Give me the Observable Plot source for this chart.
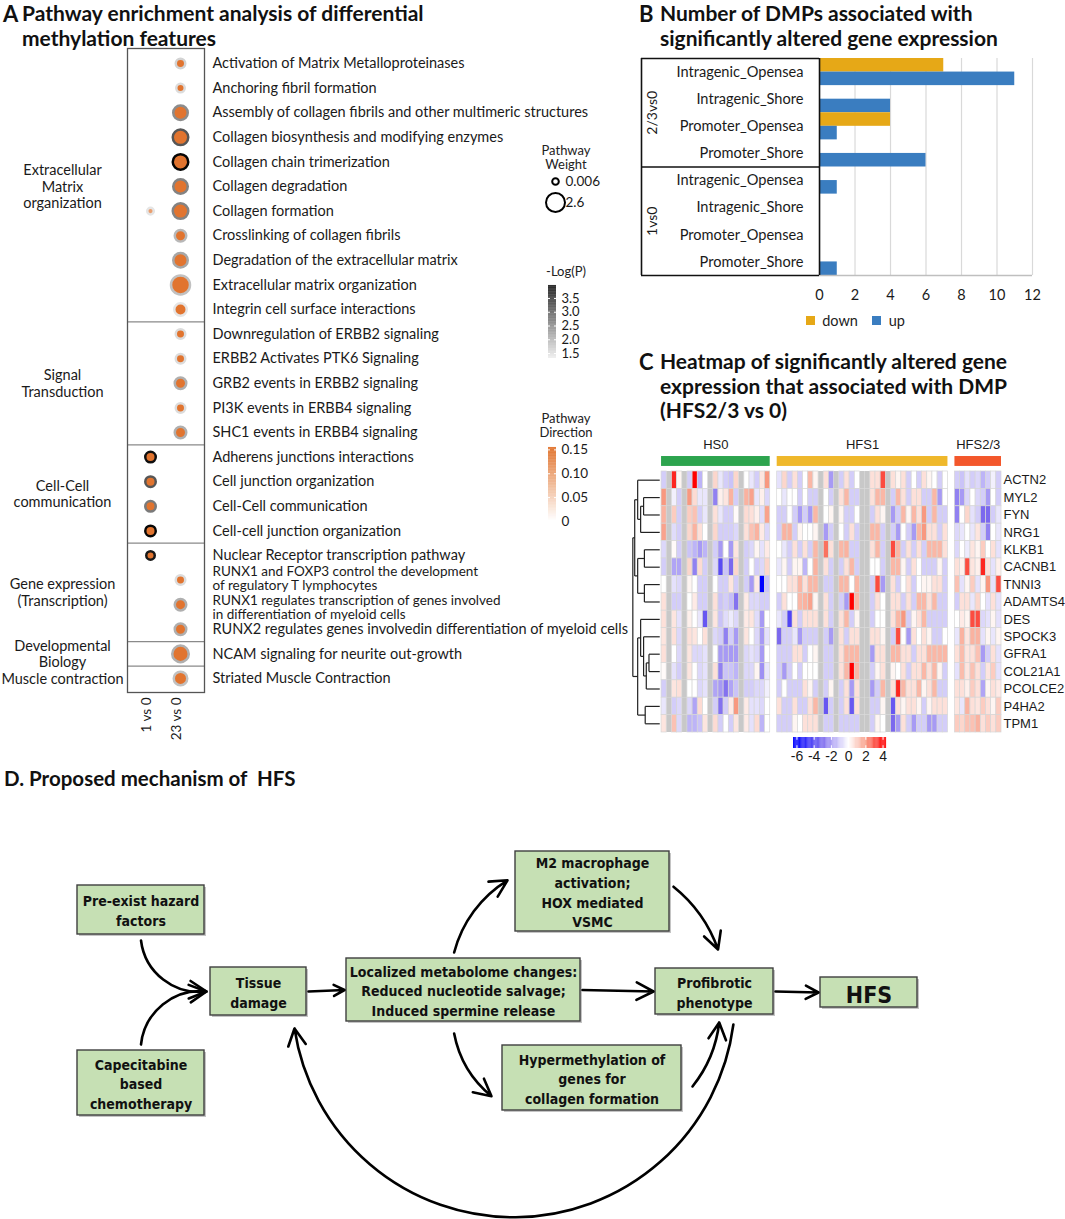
<!DOCTYPE html>
<html><head><meta charset="utf-8">
<script src="https://cdn.jsdelivr.net/npm/d3@7"></script>
<script src="https://cdn.jsdelivr.net/npm/@observablehq/plot@0.6"></script>
<style>
body{margin:0;background:#fff;}
#page{position:relative;width:1065px;height:1219px;overflow:hidden;background:#fff;font-family:Lato,"Open Sans",sans-serif;color:#111;}
.t{position:absolute;font-family:Lato,"Open Sans",sans-serif;font-weight:700;font-size:21px;line-height:24.5px;color:#111;white-space:pre;}
.lg{position:absolute;font-family:Lato,"Open Sans",sans-serif;font-size:13px;line-height:14px;color:#222;text-align:center;white-space:pre;}
</style></head>
<body><div id="page"></div>
<script>
// ================= DATA =================
// ---- Panel A: pathway enrichment ----
const pathways = [
 "Activation of Matrix Metalloproteinases",
 "Anchoring fibril formation",
 "Assembly of collagen fibrils and other multimeric structures",
 "Collagen biosynthesis and modifying enzymes",
 "Collagen chain trimerization",
 "Collagen degradation",
 "Collagen formation",
 "Crosslinking of collagen fibrils",
 "Degradation of the extracellular matrix",
 "Extracellular matrix organization",
 "Integrin cell surface interactions",
 "Downregulation of ERBB2 signaling",
 "ERBB2 Activates PTK6 Signaling",
 "GRB2 events in ERBB2 signaling",
 "PI3K events in ERBB4 signaling",
 "SHC1 events in ERBB4 signaling",
 "Adherens junctions interactions",
 "Cell junction organization",
 "Cell-Cell communication",
 "Cell-cell junction organization",
 "Nuclear Receptor transcription pathway",
 "RUNX1 and FOXP3 control the development\nof regulatory T lymphocytes",
 "RUNX1 regulates transcription of genes involved\nin differentiation of myeloid cells",
 "RUNX2 regulates genes involvedin differentiation of myeloid cells",
 "NCAM signaling for neurite out-growth",
 "Striated Muscle Contraction"
];
const pathwayGroups = ["Extracellular\nMatrix\norganization","Signal\nTransduction","Cell-Cell\ncommunication","Gene expression\n(Transcription)","Developmental\nBiology","Muscle contraction"];
const pathwayGroupSizes = [11,5,4,4,1,1];
const comparisons = ["1 vs 0","23 vs 0"];
const dotPathway = [0,1,2,3,4,5,6,6,7,8,9,10,11,12,13,14,15,16,17,18,19,20,21,22,23,24,25];
const dotComparison = ["23 vs 0","23 vs 0","23 vs 0","23 vs 0","23 vs 0","23 vs 0","23 vs 0","1 vs 0",
  "23 vs 0","23 vs 0","23 vs 0","23 vs 0","23 vs 0","23 vs 0","23 vs 0","23 vs 0","23 vs 0",
  "1 vs 0","1 vs 0","1 vs 0","1 vs 0","1 vs 0",
  "23 vs 0","23 vs 0","23 vs 0","23 vs 0","23 vs 0"];
const dotWeight = [0.61,0.40,1.66,1.87,1.87,1.66,1.87,0.006,1.03,1.66,2.6,1.24,0.61,0.61,1.03,0.61,1.03,0.82,0.82,0.82,0.82,0.40,0.61,1.03,1.03,2.08,1.45];
const dotLogP = [1.6,1.5,2.4,3.0,3.9,2.5,2.5,1.4,1.9,2.1,1.8,1.4,1.5,1.5,2.0,1.5,2.0,3.8,3.0,2.6,3.9,3.7,1.5,2.0,2.0,2.0,1.8];
const dotDirection = [0.13,0.13,0.13,0.13,0.13,0.13,0.13,0.09,0.13,0.13,0.13,0.13,0.13,0.13,0.13,0.13,0.13,0.13,0.13,0.13,0.13,0.13,0.13,0.13,0.13,0.13,0.13];
const weightLegend = [0.006, 2.6];
const logpTicks = [1.5,2.0,2.5,3.0,3.5];
const logpDomain = [1.32, 3.97];
const directionTicks = [0,0.05,0.10,0.15];
const directionDomain = [0, 0.155];

// ---- Panel B: DMP counts ----
const dmpComparisons = ["2/3vs0","1vs0"];
const dmpRegions = ["Intragenic_Opensea","Intragenic_Shore","Promoter_Opensea","Promoter_Shore"];
const dmpDown = [7,0,4,0, 0,0,0,0];
const dmpUp   = [11,4,1,6, 1,0,0,1];
const dmpTicks = [0,2,4,6,8,10,12];
const dmpSeries = ["down","up"];

// ---- Panel C: heatmap ----
const genes = ["ACTN2","MYL2","FYN","NRG1","KLKB1","CACNB1","TNNI3","ADAMTS4","DES","SPOCK3","GFRA1","COL21A1","PCOLCE2","P4HA2","TPM1"];
const sampleGroups = ["HS0","HFS1","HFS2/3"];
const sampleGroupSizes = [21,33,9];
const heatTicks = [-6,-4,-2,0,2,4];
// each row: HS0 (21) | HFS1 (33) | HFS2/3 (9); null = NA
const ACTN2 = [-1,null,3.5,0.2,null,-1,4,-1.5,0,null,0.8,-0.5,-1,-1.2,0.8,null,0,-0.5,-1,0.5,2,
  -0.6,0.8,-1,0.6,-1,0,1.4,0.2,null,0.6,-2,null,-1,0.6,-1,0,null,null,0.6,0.6,3,null,0.6,0.2,0.6,-1,0,-1,0.6,0.2,0,-1,0,
  -1,-1.2,-0.6,-1,-0.8,-1.5,-1,-0.3,-1];
const MYL2 = [2,null,-0.3,-1,null,2,0.7,-0.5,-0.5,null,-2.5,0.3,0.5,1.5,-1,null,1.5,1.8,-0.5,0.3,-0.8,
  0,-0.5,0,0,-1,0,-1,-1,null,0,-1,null,0.6,1.4,-1,-1,null,null,0.6,1.4,1.4,null,-1,1.4,0.6,-1,0.6,0.6,-1,-1,1.4,-2,0,
  -2.5,-2,-0.8,0,-0.8,-1,-2,0,-1];
const FYN = [1.5,null,1,-1,null,1,1.2,-1,-0.5,null,0.6,-0.5,-1,-1,0.1,null,0.7,0.6,0.3,-0.7,1.8,
  -1,-1,0,-1,-2,-1,-2,1.4,null,0,0.2,null,0.2,-1,-1,0,null,null,-1,0.6,0.2,null,-2,-1,1.4,0.2,1.4,0.6,2,-1,1.4,-1,-1,
  -2.5,0,0.8,-0.6,-1,-3,-3,-1,-0.5];
const NRG1 = [1.8,null,-0.7,-1,null,0.8,1.5,0.6,0,null,0.8,-1,-1,-1,-0.8,null,0.6,1.2,1.5,0.4,-0.8,
  -1,1.5,1.5,-1,0.2,0,0,0.2,null,-2,-1,null,0,-1,0.6,-1,null,null,1.4,1.4,-1,null,-1,-2,0,-1,-2,1.4,2,0.6,0.6,-1,0.6,
  -0.8,-0.5,0,-0.5,0.5,-1,-2.5,0,-0.5];
const KLKB1 = [-0.8,null,0.1,-1,null,-1.2,-1.5,-2,-1.5,null,-1,-2,0,-2,0.5,null,-1,-0.8,0.2,-0.6,0.4,
  0,-0.5,-1,0.6,-1,0.6,-1,1.4,null,2.5,0.6,null,1.4,1.5,-1,-1,null,null,0.6,1.4,-1,null,3,1.4,-1,0.6,-1,0.6,-1,1.4,1.4,1.4,0.6,
  -0.8,0,-0.4,0.5,0.2,1,0,0.6,-0.6];
const CACNB1 = [-1,null,-1.8,-1.8,null,0.8,-2.5,0.7,-1,null,-0.8,-3.8,-1.2,-3,0.8,null,-1,0,-1,-0.8,0.8,
  -0.5,0.2,-1,0.2,0.2,-1.5,0,1.5,null,0.6,-1,null,-1,0.6,1.4,-1,null,null,0,0,-1,null,1.4,1.4,0.2,-1,0.6,0,-1,-1,-1,0.2,-1,
  0.6,0.3,3,0.5,0.3,3.5,0.6,-0.6,0.3];
const TNNI3 = [0,null,-0.6,-0.8,null,0.2,0,-1,-1,null,0,-1,-1,0.5,-1,null,-1,-2,0.4,-6,-1.2,
  0,0,0.6,0.6,1.4,0.6,1.4,1.4,null,-1,-1,null,1.4,1.4,0,1.4,null,null,-1,3,-2,null,0.6,-1,0,0.6,-1,0,0.2,0.2,0.6,0.6,-1,
  1.2,-0.6,0.2,1,-0.6,0.2,2,-0.6,3];
const ADAMTS4 = [0.6,null,-1,-1,null,0,0.4,-1,-1,null,0.6,-1.2,-1,-1.3,-2.8,null,0.4,-0.8,-0.8,-1,-1,
  -1,0.6,0,0,1.4,1.5,1.8,0.2,null,0.6,-1,null,-1,-2,4.5,1.4,null,null,-1,0.6,0,null,0.6,0.6,-1,0.6,-1,1.4,1.4,0.6,1.4,-1,-1,
  -1,0.6,0.6,-0.5,0.8,0,-0.6,0.6,-0.6];
const DES = [0.6,null,0.5,-0.6,null,0.3,0,-0.5,-3.5,null,0.5,-1.2,-0.7,-0.4,-0.8,null,0.4,0.5,-0.7,-2,0,
  -0.5,-1,-4,0.6,-1,0.6,0.6,0.6,null,0.6,-1,null,0.6,1.4,-1,0.2,null,null,-1,0,0,null,0.6,1.4,2,-1,0.2,0.6,1.4,-1,-1,-1,-1,
  0,0.4,0.2,3,3,-0.8,-0.6,0.2,-0.6];
const SPOCK3 = [0.5,null,0.6,-0.8,null,0.6,0.5,0,0.6,null,-0.8,-1,-2.5,-1,-2,null,0.5,0,-0.8,-2,-0.6,
  -3,-1,-1,-0.5,-2,-1,-1,-1,null,-1,-2,null,0.6,-1,0.6,0.6,null,null,0.6,0.6,0.2,null,-1,3,0,-2,0.6,0,0.6,0.2,-1,-1,0,
  -0.5,1.5,0.5,1.5,1.5,-0.6,0.2,-0.5,0.2];
const GFRA1 = [0.6,null,0,-0.8,null,0.5,-0.8,-0.8,-0.6,null,0,-2,-2,-2,-2,null,-0.8,-0.6,-0.8,-2,0,
  -1,-1,-1,0.6,0.6,-1,0,0.2,null,-1,-1,null,0.6,1.4,1.4,1.4,null,null,-2,0.6,0.6,null,1.4,1.4,0.6,0.6,-1,0.6,0.6,1.4,1.4,1.4,1.4,
  0.6,1.3,0.5,0.6,1.2,-2,-1,0.6,-0.6];
const COL21A1 = [0.1,null,-0.6,-1,null,0.5,0,-0.8,-0.6,null,0.6,-2.5,-1.2,-1.2,-1.5,null,-0.8,-0.8,0.2,-2.2,-0.5,
  -1,-2,-1,0,-1,0,0,0,null,-1,-1,null,0.6,1.4,4,1.4,null,null,-1,0.2,0.6,null,0.2,0,0.6,-1,0.6,0.6,1.4,0.6,1.4,0.2,-1,
  -0.6,1.3,0.5,1.2,0.6,-1,0.5,1,-0.6];
const PCOLCE2 = [-1,null,0.5,0.6,null,0,0,-0.8,-0.6,null,-1.8,-2,-2.8,-1.8,-1.2,null,-1,-1,-0.8,-0.8,-0.3,
  -1,0,-1,-1,-1,0.6,0.2,-1,null,-1,0.2,null,-1,0.6,-2,0.6,null,null,-2,-1,1.4,null,0.6,3.5,1.4,0.6,0.6,1.4,0.2,0.6,1.4,-1,-1,
  0.6,0.6,0.3,1,0.6,-1.8,0.2,0.6,0.4];
const P4HA2 = [-0.5,null,-1,-0.8,null,-0.8,-1.8,0.7,0,null,-1,-2.8,-1,0.4,2,null,0.4,-0.6,-0.6,-0.8,0,
  0.6,-1,-1,0.6,-1,-1,0.6,1.4,null,-3.5,-1,null,-1,0.6,-3.5,0.6,null,null,-1,-1,0.2,null,-3.5,0.6,0.2,0.6,0.6,0.2,-1,0.2,0.6,0.6,0.6,
  0.5,-0.5,1.5,0.6,0.5,1,0.6,0.2,1];
const TPM1 = [0.5,null,1.2,-0.8,null,-1.5,-1.5,-1.2,0.5,null,0.7,-1,0,-1,0.5,null,0.4,-0.6,0.7,-1.5,0,
  -1,-1,-1,0.2,0,0.6,0.6,0.6,null,-1,-1,null,-1,-1,-1,-1,null,null,-1,0.2,0,null,-3,-2,0.6,-1,-2,-1,-1,-2,-2,-1,-1,
  1,0.8,1.2,1.2,1.5,0.6,1,0.6,1];
const heatRows = [ACTN2,MYL2,FYN,NRG1,KLKB1,CACNB1,TNNI3,ADAMTS4,DES,SPOCK3,GFRA1,COL21A1,PCOLCE2,P4HA2,TPM1];
// row dendrogram (merge heights, relative)
const dendrogram = {h:1.0, c:[
  {h:0.93, c:[
    {h:0.82, c:["ACTN2", {h:0.71, c:[{h:0.6, c:["MYL2","FYN"]}, "NRG1"]}]},
    {h:0.82, c:[{h:0.57, c:["KLKB1","CACNB1"]}, {h:0.57, c:["TNNI3","ADAMTS4"]}]}
  ]},
  {h:0.82, c:[
    {h:0.71, c:["DES", {h:0.6, c:["SPOCK3", {h:0.5, c:[{h:0.4, c:["GFRA1","COL21A1"]}, "PCOLCE2"]}]}]},
    {h:0.54, c:["P4HA2","TPM1"]}
  ]}
]};

// ---- Panel D: mechanism ----
const mechLabels = ["Pre-exist hazard\nfactors","Capecitabine\nbased\nchemotherapy","Tissue\ndamage",
  "Localized metabolome changes:\nReduced nucleotide salvage;\nInduced spermine release",
  "M2 macrophage\nactivation;\nHOX mediated\nVSMC","Hypermethylation of\ngenes for\ncollagen formation",
  "Profibrotic\nphenotype","HFS"];
const mechLinks = [[0,2],[1,2],[2,3],[3,4],[4,6],[3,5],[5,6],[3,6],[6,7],[6,2]];

// ================= STYLE / LAYOUT =================
const page = document.getElementById("page");
function place(el, left, top){ el.style.position="absolute"; el.style.left=left+"px"; el.style.top=top+"px"; page.appendChild(el); return el; }
function div(cls, text, left, top, extra){ const d=document.createElement("div"); d.className=cls; d.textContent=text; if(extra) Object.assign(d.style, extra); return place(d,left,top); }
const baseStyle = {background:"transparent", overflow:"visible", maxWidth:"none", fontFamily:"Lato, 'Open Sans', sans-serif", fontSize:"13px", color:"#1a1a1a"};

// titles
div("t","A",3,2,{fontSize:"22px"});
div("t","Pathway enrichment analysis of differential\nmethylation features",22,1);
div("t","B",639,2,{fontSize:"22px"});
div("t","Number of DMPs associated with\nsignificantly altered gene expression",660,1);
div("t","C",639,350,{fontSize:"22px"});
div("t","Heatmap of significantly altered gene\nexpression that associated with DMP\n(HFS2/3 vs 0)",660,349);
div("t","D. Proposed mechanism of  HFS",4,766,{fontSize:"20.5px"});

// ================= PANEL A =================
const pColor = d3.scaleLinear().domain(logpDomain).range(["#ececec","#000000"]);
const dColor = d3.scaleLinear().domain([0,0.15]).range(["#ffffff","#dc5f0f"]).clamp(true);
const rScale = {type:"linear", domain:[0.006,2.6], range:[3.3,9.5]};
const dots = dotPathway.map((p,i)=>({row:p, col:comparisons.indexOf(dotComparison[i]), weight:dotWeight[i],
  fill:dColor(dotDirection[i]), ring:pColor(dotLogP[i])}));
let acc=0; const groupInfo=[]; const separators=[];
pathwayGroups.forEach((g,i)=>{ groupInfo.push({label:g, center:acc+(pathwayGroupSizes[i]-1)/2}); if(i>0) separators.push(acc-0.5); acc+=pathwayGroupSizes[i]; });
const rowIdx = pathways.map((d,i)=>i);
const singleIdx = rowIdx.filter(i=>!pathways[i].includes("\n"));
const multiIdx = rowIdx.filter(i=>pathways[i].includes("\n"));
const multiShift = [-2, 2.5]; // spread the two wrapped labels apart, as in the original

place(Plot.plot({
  width:640, height:760, marginLeft:127, marginRight:436, marginTop:48, marginBottom:68,
  style:baseStyle,
  x:{domain:[-0.767,1.8], axis:null},
  y:{domain:[-0.61,25.57], reverse:true, axis:null},
  r:rScale, color:{type:"identity"},
  marks:[
    Plot.ruleY(separators,{stroke:"#8a8a8a", strokeWidth:1.3}),
    Plot.frame({stroke:"#555", strokeWidth:1.3}),
    Plot.dot(dots,{x:"col", y:"row", r:"weight", fill:"fill", stroke:"ring", strokeWidth:2.5}),
    Plot.text(singleIdx,{y:i=>i, frameAnchor:"right", dx:8, textAnchor:"start", text:i=>pathways[i], fontSize:14.5}),
    ...multiIdx.map((idx,k)=>Plot.text([idx],{y:i=>i, frameAnchor:"right", dx:8, dy:multiShift[k]||0, textAnchor:"start", text:i=>pathways[i], fontSize:13.5, lineHeight:1.05})),
    Plot.text(groupInfo,{y:"center", frameAnchor:"left", dx:-65, text:"label", textAnchor:"middle", fontSize:14.5, lineHeight:1.12}),
    Plot.text(comparisons,{x:(d,i)=>i, frameAnchor:"bottom", dy:5, rotate:-90, textAnchor:"end", text:d=>d, fontSize:13.5})
  ]
}),0,0);

// legends A
div("lg","Pathway\nWeight",536,143,{width:"60px"});
place(Plot.plot({
  width:100, height:45, marginLeft:25, marginRight:74, marginTop:11, marginBottom:13, style:baseStyle,
  x:{domain:[0,1], axis:null}, y:{domain:[0,1], axis:null, reverse:true}, r:rScale,
  marks:[
    Plot.dot(weightLegend,{x:()=>0, y:(d,i)=>i, r:d=>d, stroke:"#000", strokeWidth:2, fill:"none"}),
    Plot.text(weightLegend,{x:()=>0, y:(d,i)=>i, dx:10, textAnchor:"start", text:d=>String(d), fontSize:13.5})
  ]
}),530,170);

div("lg","-Log(P)",536,264,{width:"60px"});
const logpSteps = d3.range(0,1,0.01).map(t=>logpDomain[0]+t*(logpDomain[1]-logpDomain[0]));
const logpStep = (logpDomain[1]-logpDomain[0])*0.01;
place(Plot.plot({
  width:80, height:85, marginLeft:18, marginRight:54, marginTop:5, marginBottom:7, style:baseStyle,
  x:{domain:[0,1], axis:null}, y:{domain:logpDomain, axis:null}, color:{type:"identity"},
  marks:[
    Plot.rect(logpSteps,{x1:()=>0, x2:()=>1, y1:d=>d, y2:d=>d+logpStep*1.05, fill:d=>pColor(d)}),
    Plot.ruleY(logpTicks,{x1:()=>0, x2:()=>0.25, stroke:"#fff", strokeWidth:1}),
    Plot.ruleY(logpTicks,{x1:()=>0.75, x2:()=>1, stroke:"#fff", strokeWidth:1}),
    Plot.text(logpTicks,{y:d=>d, frameAnchor:"right", dx:5, textAnchor:"start", text:d=>d.toFixed(1), fontSize:13})
  ]
}),530,280);

div("lg","Pathway\nDirection",536,411,{width:"60px"});
const dirSteps = d3.range(0,1,0.01).map(t=>directionDomain[0]+t*(directionDomain[1]-directionDomain[0]));
const dirStep = (directionDomain[1]-directionDomain[0])*0.01;
place(Plot.plot({
  width:80, height:85, marginLeft:18, marginRight:54, marginTop:7, marginBottom:4, style:baseStyle,
  x:{domain:[0,1], axis:null}, y:{domain:directionDomain, axis:null}, color:{type:"identity"},
  marks:[
    Plot.rect(dirSteps,{x1:()=>0, x2:()=>1, y1:d=>d, y2:d=>d+dirStep*1.05, fill:d=>dColor(d)}),
    Plot.ruleY(directionTicks,{x1:()=>0, x2:()=>0.25, stroke:"#fff", strokeWidth:1}),
    Plot.ruleY(directionTicks,{x1:()=>0.75, x2:()=>1, stroke:"#fff", strokeWidth:1}),
    Plot.text(directionTicks,{y:d=>d, frameAnchor:"right", dx:5, textAnchor:"start", text:d=>d===0?"0":d.toFixed(2), fontSize:13.5})
  ]
}),530,440);

// ================= PANEL B =================
const dmpColors = {down:"#e6a817", up:"#3a7dc0"};
const dmpLabels = []; const dmpBars = [];
dmpComparisons.forEach((c,gi)=>dmpRegions.forEach((r,ri)=>{
  const i = gi*dmpRegions.length+ri; dmpLabels.push(r);
  dmpBars.push({series:"down", value:dmpDown[i], y1:i, y2:i+0.5});
  dmpBars.push({series:"up", value:dmpUp[i], y1:i+0.5, y2:i+1});
}));
const nRows = dmpLabels.length;
const xmin = -10.03;
place(Plot.plot({
  width:425, height:290, marginLeft:1, marginRight:33, marginTop:8, marginBottom:65, style:baseStyle,
  x:{domain:[xmin,12], axis:null}, y:{domain:[0,nRows], reverse:true, axis:null},
  color:{domain:dmpSeries, range:dmpSeries.map(s=>dmpColors[s])},
  marks:[
    Plot.ruleX(dmpTicks.filter(t=>t>0),{y1:()=>0, y2:()=>nRows, stroke:"#d9d9d9", strokeWidth:1.2}),
    Plot.rect(dmpBars,{x1:()=>0, x2:"value", y1:"y1", y2:"y2", fill:"series"}),
    Plot.ruleY([nRows],{x1:()=>0, x2:()=>12, stroke:"#bfbfbf", strokeWidth:1.3}),
    Plot.ruleY([0,nRows/2,nRows],{x1:()=>xmin, x2:()=>0, stroke:"#111", strokeWidth:1.6}),
    Plot.ruleX([xmin,0],{y1:()=>0, y2:()=>nRows, stroke:"#111", strokeWidth:1.6}),
    Plot.text(dmpLabels,{x:()=>0, y:(d,i)=>i+0.5, dx:-16, textAnchor:"end", text:d=>d, fontSize:14.6}),
    Plot.text(dmpComparisons,{x:()=>xmin, y:(d,i)=>i*dmpRegions.length+dmpRegions.length/2, dx:11, rotate:-90, text:d=>d, fontSize:14}),
    Plot.text(dmpTicks,{x:d=>d, frameAnchor:"bottom", dy:24, text:d=>String(d), fontSize:14.5})
  ]
}),640,50);
const legB = Plot.legend({color:{domain:dmpSeries, range:dmpSeries.map(s=>dmpColors[s])}, swatchSize:9,
  style:{fontFamily:"Lato, sans-serif", fontSize:"14.5px", background:"transparent", color:"#222"}});
place(legB,806,304);

// ================= PANEL C =================
const heatColor = {type:"linear", domain:[-6,-3,0,2,4], range:["#0000ff","#7b68ee","#ffffff","#f89880","#ff0000"], clamp:true};
const groupGap = 1.35;
const cells = []; const naCells = []; const annot = [];
let colStart = 0;
sampleGroups.forEach((g,gi)=>{
  const offset = gi*groupGap;
  annot.push({name:g, x1:colStart+offset, x2:colStart+sampleGroupSizes[gi]+offset});
  for(let k=0;k<sampleGroupSizes[gi];k++){
    const c = colStart+k;
    heatRows.forEach((row,ri)=>{
      const v = row[c]; const cell = {x:c+offset, row:ri, v};
      (v==null ? naCells : cells).push(cell);
    });
  }
  colStart += sampleGroupSizes[gi];
});
const annotColors = ["#2da44e","#efb82b","#f3572b"];
// dendrogram segments
const dendSegs = [];
const leafScale = 5.2, leafGap = 0.35;
function layoutNode(n){
  if(typeof n === "string") return {y:genes.indexOf(n)+0.5, h:0};
  const kids = n.c.map(layoutNode);
  const y = d3.mean(kids, k=>k.y);
  const xN = -leafGap - n.h*leafScale;
  dendSegs.push({x1:xN, y1:d3.min(kids,k=>k.y), x2:xN, y2:d3.max(kids,k=>k.y)});
  kids.forEach(k=>dendSegs.push({x1:xN, y1:k.y, x2:-leafGap-k.h*leafScale, y2:k.y}));
  return {y, h:n.h};
}
layoutNode(dendrogram);
const totalX = colStart + (sampleGroups.length-1)*groupGap;
const cFont = "'Liberation Sans', Arial, sans-serif";
place(Plot.plot({
  width:465, height:330, marginLeft:30, marginRight:64, marginTop:7.7, marginBottom:23, style:baseStyle,
  x:{domain:[-6,totalX], axis:null}, y:{domain:[-2.2,genes.length], reverse:true, axis:null},
  color:heatColor,
  marks:[
    Plot.rect(naCells,{x1:"x", x2:d=>d.x+1, y1:"row", y2:d=>d.row+1, fill:"#c8c8c8"}),
    Plot.rect(cells,{x1:"x", x2:d=>d.x+1, y1:"row", y2:d=>d.row+1, fill:"v", stroke:"#d6d6d6", strokeWidth:0.7}),
    ...annot.map((a,i)=>Plot.rect([a],{x1:"x1", x2:"x2", y1:()=>-0.86, y2:()=>-0.29, fill:annotColors[i]})),
    Plot.text(annot,{x:d=>(d.x1+d.x2)/2, y:()=>-1.55, text:"name", fontSize:13, fontFamily:cFont}),
    Plot.link(dendSegs,{x1:"x1", y1:"y1", x2:"x2", y2:"y2", stroke:"#222", strokeWidth:1.2}),
    Plot.text(genes,{y:(d,i)=>i+0.5, frameAnchor:"right", dx:2, textAnchor:"start", text:d=>d, fontSize:13, fontFamily:cFont})
  ]
}),600,425);
// heatmap colour legend
const heatSteps = d3.range(-6.4,4.4,0.1);
place(Plot.plot({
  width:110, height:32, marginLeft:8, marginRight:9, marginTop:4, marginBottom:17, style:baseStyle,
  x:{domain:[-6.4,4.4], axis:null}, y:{domain:[0,1], axis:null}, color:heatColor,
  marks:[
    Plot.rect(heatSteps,{x1:d=>d, x2:d=>d+0.11, y1:()=>0, y2:()=>1, fill:d=>d}),
    Plot.ruleX(heatTicks,{y1:()=>0, y2:()=>0.25, stroke:"#fff"}),
    Plot.ruleX(heatTicks,{y1:()=>0.75, y2:()=>1, stroke:"#fff"}),
    Plot.text(heatTicks,{x:d=>d, frameAnchor:"bottom", dy:12, text:d=>String(d), fontSize:14, fontFamily:cFont})
  ]
}),785,733);

// ================= PANEL D =================
// node boxes (diagram layout, page units)
const mechBoxes = [[77,204,885,934],[77,204,1050,1115],[210,306,967,1015],[346,580,958,1021],
  [515,669,851,931],[502,681,1045,1110],[655,773,968,1014],[820,917,977,1007]];
const nodes = mechLabels.map((label,i)=>{const [x1,x2,y1,y2]=mechBoxes[i]; return {label,x1,x2,y1,y2,cx:(x1+x2)/2,cy:(y1+y2)/2,big:label==="HFS"};});
// anchors for each link: [fromSide, t, gap, toSide, t, gap, bend]
const linkAnchors = [["bottom",0.5,6,"left",0.5,4,-45],["top",0.5,6,"left",0.5,4,45],["right",0.5,2,"left",0.5,2,0],
  ["top",0.46,6,"left",0.36,8,22],["right",0.44,4,"top",0.53,19,16],["bottom",0.46,12,"left",0.78,11,-20],
  ["right",0.63,11,"bottom",0.54,8,-16],["right",0.5,2,"left",0.5,2,0],["right",0.5,2,"left",0.5,2,0],
  ["bottom",0.66,10,"bottom",0.875,13,82]];
function anchor(n, side, t, gap){
  if(side==="bottom") return [n.x1+t*(n.x2-n.x1), n.y2+gap];
  if(side==="top") return [n.x1+t*(n.x2-n.x1), n.y1-gap];
  if(side==="left") return [n.x1-gap, n.y1+t*(n.y2-n.y1)];
  return [n.x2+gap, n.y1+t*(n.y2-n.y1)];
}
const arrows = mechLinks.map(([a,b],i)=>{
  const s = linkAnchors[i];
  const [x1,y1] = anchor(nodes[a],s[0],s[1],s[2]);
  const [x2,y2] = anchor(nodes[b],s[3],s[4],s[5]);
  return {x1,y1,x2,y2,bend:s[6]};
});
const mechFont = "'Liberation Sans Narrow','DejaVu Sans Condensed','Arial Narrow',sans-serif";
place(Plot.plot({
  width:1065, height:419, margin:0, style:baseStyle,
  x:{domain:[0,1065], axis:null}, y:{domain:[800,1219], reverse:true, axis:null},
  marks:[
    Plot.rect(nodes,{x1:"x1",x2:"x2",y1:"y1",y2:"y2", fill:"#9c9c9c", dx:2, dy:2, fillOpacity:0.6}),
    Plot.rect(nodes,{x1:"x1",x2:"x2",y1:"y1",y2:"y2", fill:"#c6e0b4", stroke:"#3f3f3f", strokeWidth:1.4}),
    Plot.text(nodes,{x:"cx", y:"cy", text:"label", fontSize:d=>d.big?23:14, fontWeight:"bold", lineHeight:1.4, fontFamily:mechFont, fill:"#111"}),
    ...arrows.map(a=>Plot.arrow([a],{x1:"x1",y1:"y1",x2:"x2",y2:"y2", bend:a.bend, stroke:"#000", strokeWidth:2.6, headLength:11, headAngle:55}))
  ]
}),0,800);
</script></body></html>
